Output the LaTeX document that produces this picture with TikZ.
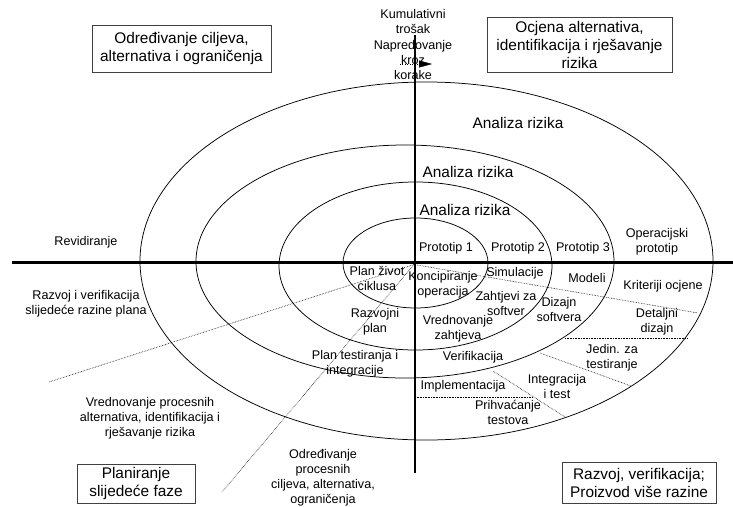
\documentclass[tikz,border=0pt]{standalone}
\usepackage{fontspec}
\setmainfont{Liberation Sans}
\usetikzlibrary{arrows.meta,calc}

\begin{document}
\begin{tikzpicture}[x=1pt,y=-1pt,
    lbl/.style={inner sep=0pt,align=center,font=\fontsize{12.6}{15}\selectfont},
    risk/.style={inner sep=0pt,font=\fontsize{15.4}{18}\selectfont},
    box/.style={draw=black!75,line width=0.8pt,align=center,inner sep=2pt,font=\fontsize{15.4}{18}\selectfont},
    ring/.style={line width=0.75pt},
    guide/.style={densely dotted,line width=0.6pt}]
    \useasboundingbox (0,0) rectangle (733,506);

    % Quadrant boxes
    \node[box,minimum width=179,minimum height=47] (goals) at (181.5,48.5) {Određivanje ciljeva,\\alternativa i ograničenja};
    \node[box,minimum width=185,minimum height=55] (risks) at (579.5,44.5) {Ocjena alternativa,\\identifikacija i rješavanje\\rizika};
    \node[box,minimum width=118,minimum height=39] (next) at (136,483.5) {Planiranje\\slijedeće faze};
    \node[box,minimum width=154,minimum height=41] (dev) at (639,482.5) {Razvoj, verifikacija;\\Proizvod više razine};

    % Rings of the spiral
    \draw[ring] (415.5,263) ellipse [x radius=72.5,y radius=45];
    \draw[ring] (415.5,266) ellipse [x radius=136.5,y radius=84];
    \draw[ring] (405,261.5) ellipse [x radius=209,y radius=116.5];
    \draw[ring] (426.5,261) ellipse [x radius=286.5,y radius=179];

    % Dotted phase lines
    \coordinate (O) at (414,264.5);
    \draw[guide] (O) -- (49,382);
    \draw[guide] (O) -- (222,492);
    \draw[guide] (O) -- (698,313);
    \draw[guide] (565,338) -- (688,338);
    \draw[guide] (540,353) -- (631,386);
    \draw[guide] (493,371) -- (565,417);
    \draw[guide] (415,397) -- (533,397);

    % Axes
    \draw[line width=3pt] (12,262) -- (733,262);
    \draw[line width=2.5pt] (415,35) -- (415,473);

    % Axis texts
    \node[lbl] (cost) at (413,21) {Kumulativni\\trošak};
    \node[lbl] (steps) at (413,60) {Napredovanje\\kroz\\korake};
    \draw[dotted,-{Triangle[length=13pt,width=7pt]}] (400,64) -- (432,64);

    \node[risk] (risk1) at (518,123) {Analiza rizika};
    \node[risk] (risk2) at (468,172) {Analiza rizika};
    \node[risk] (risk3) at (465,210) {Analiza rizika};

    % Outer texts
    \node[lbl] (revid) at (86,242) {Revidiranje};
    \node[lbl] (nextplan) at (86,304) {Razvoj i verifikacija\\slijedeće razine plana};
    \node[lbl] (procalt) at (150,418) {Vrednovanje procesnih\\alternativa, identifikacija i\\rješavanje rizika};
    \node[lbl] (procgoal) at (323,478) {Određivanje\\procesnih\\ciljeva, alternativa,\\ograničenja};

    % Texts inside the spiral
    \node[lbl] (proto1) at (446,248) {Prototip 1};
    \node[lbl] (proto2) at (518,248) {Prototip 2};
    \node[lbl] (proto3) at (583,248) {Prototip 3};
    \node[lbl] (opproto) at (657,241.5) {Operacijski\\prototip};
    \node[lbl] (life) at (377,278) {Plan život\\ciklusa};
    \node[lbl] (concept) at (443,285) {Koncipiranje\\operacija};
    \node[lbl] (sim) at (515,273) {Simulacije};
    \node[lbl] (models) at (587,278) {Modeli};
    \node[lbl] (crit) at (663,286) {Kriteriji ocjene};
    \node[lbl] (req) at (506,303) {Zahtjevi za\\softver};
    \node[lbl] (design) at (559,309.5) {Dizajn\\softvera};
    \node[lbl] (detail) at (657,321.5) {Detaljni\\dizajn};
    \node[lbl] (devplan) at (375,321.5) {Razvojni\\plan};
    \node[lbl] (reqval) at (458,328.5) {Vrednovanje\\zahtjeva};
    \node[lbl] (verif) at (473,357) {Verifikacija};
    \node[lbl] (unit) at (612,357.5) {Jedin. za\\testiranje};
    \node[lbl] (testplan) at (355,364) {Plan testiranja i\\integracije};
    \node[lbl] (impl) at (463,386) {Implementacija};
    \node[lbl] (integ) at (557,386.5) {Integracija\\i test};
    \node[lbl] (accept) at (508,412.5) {Prihvaćanje\\testova};
\end{tikzpicture}
\end{document}
